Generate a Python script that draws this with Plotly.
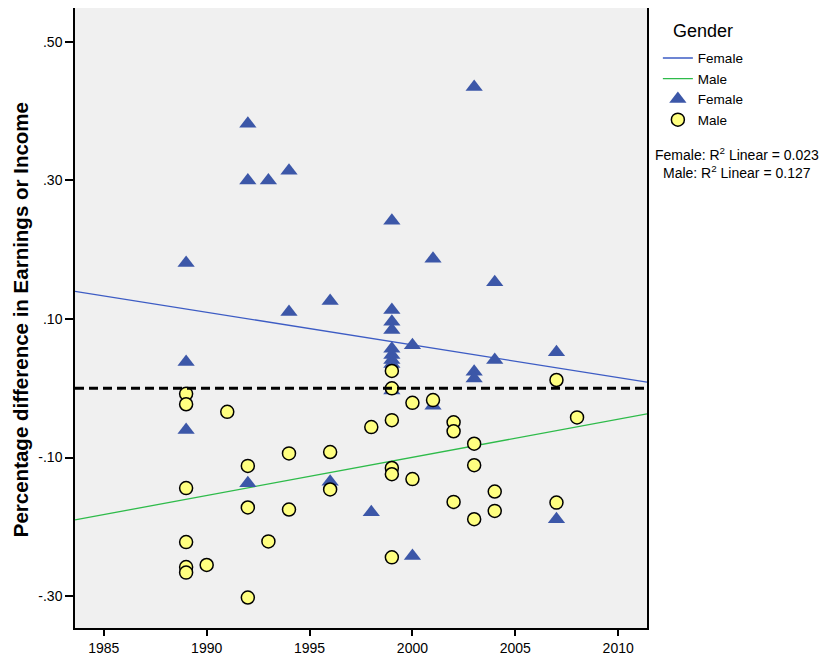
import numpy as np
import plotly.graph_objects as go

# ---------------- data ----------------
female_year = [1989, 1989, 1989, 1992, 1992, 1992, 1993, 1994, 1994, 1996, 1996, 1998,
               1999, 1999, 1999, 1999, 1999, 1999, 1999, 1999, 1999,
               2000, 2000, 2001, 2001, 2003, 2003, 2003, 2004, 2004, 2007, 2007]
female_diff = [0.181, 0.038, -0.060, 0.382, 0.300, -0.137, 0.300, 0.314, 0.110, 0.126, -0.135, -0.179,
               0.242, 0.113, 0.096, 0.084, 0.057, 0.048, 0.041, 0.035, -0.003,
               0.062, -0.242, 0.187, -0.025, 0.435, 0.024, 0.014, 0.153, 0.041, 0.052, -0.189]

male_year = [1989, 1989, 1989, 1989, 1989, 1989, 1990, 1991, 1992, 1992, 1992, 1993,
             1994, 1994, 1996, 1996, 1998, 1999, 1999, 1999, 1999, 1999, 1999,
             2000, 2000, 2001, 2002, 2002, 2002, 2003, 2003, 2003, 2004, 2004,
             2007, 2007, 2008]
male_diff = [-0.008, -0.023, -0.144, -0.222, -0.258, -0.266, -0.255, -0.034, -0.112, -0.172, -0.302, -0.221,
             -0.094, -0.175, -0.092, -0.146, -0.056, 0.025, 0.000, -0.046, -0.115, -0.124, -0.244,
             -0.021, -0.131, -0.017, -0.049, -0.062, -0.164, -0.080, -0.111, -0.189, -0.149, -0.177,
             0.012, -0.165, -0.042]

# linear fit lines as shown in the chart (value at year 2000, slope per year)
female_fit_at_2000 = 0.0626
female_fit_slope = -0.00472
male_fit_at_2000 = -0.0996
male_fit_slope = 0.00551

x_ticks = [1985, 1990, 1995, 2000, 2005, 2010]
y_ticks = [0.5, 0.3, 0.1, -0.1, -0.3]
y_tick_text = [".50", ".30", ".10", "-.10", "-.30"]
r2_labels = ["Female: R<sup>2</sup> Linear = 0.023", "Male: R<sup>2</sup> Linear = 0.127"]

X_RANGE = [1983.6, 2011.4]
Y_RANGE = [-0.346, 0.549]

BLUE_LINE = "#3D5CC4"
GREEN_LINE = "#2EBB4A"
TRI = "#3C57A8"
CIRC = "#FFFF80"

fx = np.array(X_RANGE)
fig = go.Figure()
fig.add_trace(go.Scatter(x=fx, y=female_fit_at_2000 + female_fit_slope * (fx - 2000), mode="lines",
                         name="Female", line=dict(color=BLUE_LINE, width=1.3), legendrank=1))
fig.add_trace(go.Scatter(x=fx, y=male_fit_at_2000 + male_fit_slope * (fx - 2000), mode="lines",
                         name="Male", line=dict(color=GREEN_LINE, width=1.3), legendrank=2))
fig.add_trace(go.Scatter(x=female_year, y=female_diff, mode="markers", name="Female",
                         marker=dict(symbol="triangle-up", size=15, color=TRI,
                                     line=dict(width=0)), legendrank=3))
fig.add_trace(go.Scatter(x=male_year, y=male_diff, mode="markers", name="Male",
                         marker=dict(symbol="circle", size=13, color=CIRC,
                                     line=dict(width=1.5, color="black")), legendrank=4))

fig.add_shape(type="line", xref="paper", x0=0, x1=1, yref="y", y0=0, y1=0,
              line=dict(color="black", width=3, dash="9px,5px"), layer="above")

for i, txt in enumerate(r2_labels):
    fig.add_annotation(text=txt, xref="paper", yref="paper", x=1.157, y=0.7645 - i * 0.029,
                       showarrow=False, xanchor="center", yanchor="middle",
                       font=dict(size=14, color="black"))

fig.add_annotation(text="Gender", xref="paper", yref="paper", x=1.042, y=0.963,
                   showarrow=False, xanchor="left", yanchor="middle",
                   font=dict(size=18, color="black"))

fig.add_annotation(text="<b>Percentage difference in Earnings or Income</b>", xref="paper",
                   yref="paper", x=-0.0955, y=0.497, textangle=-90, showarrow=False,
                   xanchor="center", yanchor="middle", font=dict(size=20.5, color="black"))

# page body has an 8px margin, so the figure is 8px smaller and margins offset accordingly
fig.update_layout(
    width=823, height=647,
    margin=dict(l=67, r=184, t=0, b=27, autoexpand=False),
    paper_bgcolor="white", plot_bgcolor="#F0F0F0",
    font=dict(family="Liberation Sans, Arial, sans-serif", color="black"),
    showlegend=True,
    legend=dict(x=1.019, y=0.944, xanchor="left", yanchor="top",
                font=dict(size=13.5), bgcolor="rgba(0,0,0,0)",
                tracegroupgap=0, itemwidth=30),
)
fig.update_xaxes(range=X_RANGE, tickvals=x_ticks, ticks="outside", ticklen=6, tickwidth=1.5,
                 tickcolor="black", showline=True, linecolor="black", linewidth=1.5, mirror=True,
                 showgrid=False, zeroline=False, tickfont=dict(size=14), automargin=False)
fig.update_yaxes(range=Y_RANGE, tickvals=y_ticks, ticktext=y_tick_text, ticks="outside",
                 ticklen=8, tickwidth=1.5, tickcolor="black", showline=True, linecolor="black",
                 linewidth=1.5, mirror=True, showgrid=False, zeroline=False,
                 tickfont=dict(size=14), automargin=False)

fig.write_html("out.html")
